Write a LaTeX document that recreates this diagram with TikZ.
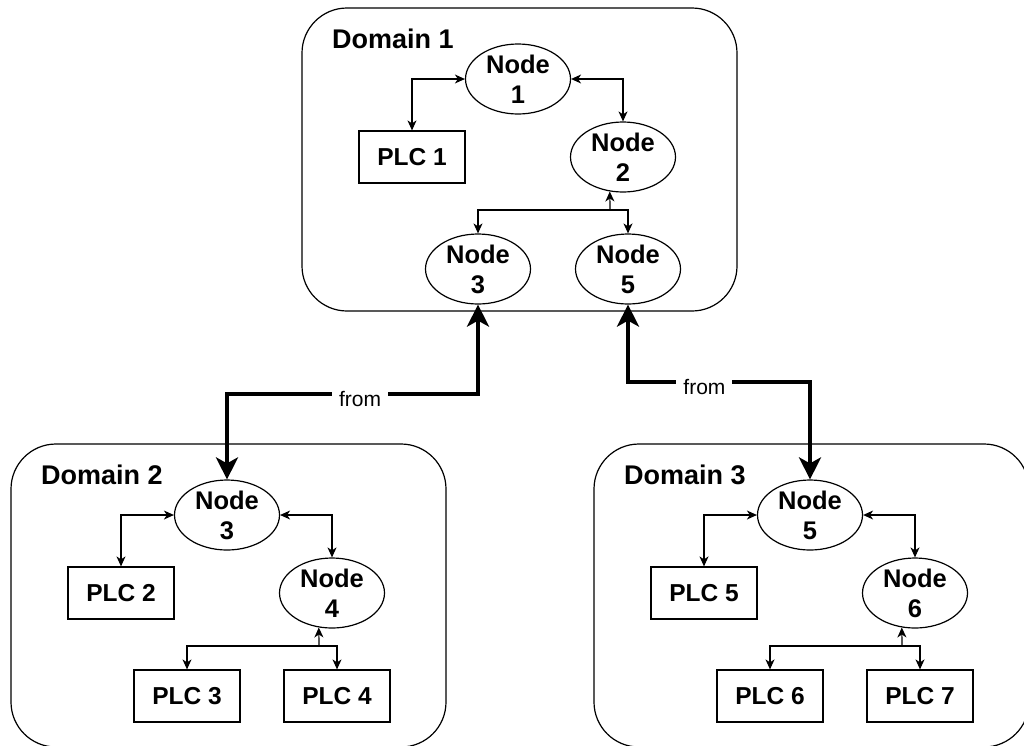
\documentclass[tikz,border=0pt]{standalone}
\usepackage{fontspec}
\setmainfont{Liberation Sans}
\usetikzlibrary{arrows.meta,shapes.geometric,calc}

\tikzset{
  thintip/.tip={Stealth[length=10pt,width=9pt,inset=3pt]},
  thicktip/.tip={Stealth[length=22pt,width=22pt,inset=6pt]},
  domainbox/.style={draw, line width=1.2pt, rounded corners=45pt},
  domaintitle/.style={anchor=west, inner sep=0pt, font=\fontsize{27}{32}\selectfont\bfseries},
  nodeell/.style={draw, ellipse, line width=1.2pt, minimum width=105pt, minimum height=70pt,
    inner sep=0pt, align=center, font=\fontsize{25.5}{30}\selectfont\bfseries},
  plcbox/.style={draw, rectangle, line width=1.2pt, minimum width=106pt, minimum height=52pt,
    inner sep=0pt, font=\fontsize{24.5}{29}\selectfont\bfseries},
  link/.style={line width=1.2pt, thintip-thintip},
  linkto/.style={line width=1.2pt, -thintip},
  trunk/.style={line width=4pt, thicktip-thicktip},
  fromlabel/.style={fill=white, inner xsep=7pt, inner ysep=2pt, yshift=-5pt,
    font=\fontsize{21}{25}\selectfont}
}

\begin{document}
\begin{tikzpicture}[x=1pt, y=-1pt]
\useasboundingbox (0,0) rectangle (1024,745);
\clip (0,0) rectangle (1024,745);

% ---- Domain 1 ----
\begin{scope}[shift={(302,8)}]
  \draw[domainbox] (0,0) rectangle (435,303);
  \node[domaintitle] (d1title) at (30,31) {Domain 1};
  \node[nodeell] (d1n1) at (216,71) {Node\\1};
  \node[plcbox]  (plc1) at (110,149) {PLC 1};
  \node[nodeell] (d1n2) at (321,149) {Node\\2};
  \node[nodeell] (d1n3) at (176,261) {Node\\3};
  \node[nodeell] (d1n5) at (326,261) {Node\\5};
  \coordinate (d1br) at (308,202);
  \draw[link] (plc1.north) |- (d1n1.west);
  \draw[link] (d1n1.east) -| (d1n2.north);
  \draw[linkto] (d1br) -- (d1n2.249);
  \draw[linkto] (d1br) -| (d1n3.north);
  \draw[linkto] (d1br) -| (d1n5.north);
\end{scope}

% ---- Domain 2 ----
\begin{scope}[shift={(11,444)}]
  \draw[domainbox] (0,0) rectangle (435,303);
  \node[domaintitle] (d2title) at (30,31) {Domain 2};
  \node[nodeell] (d2n3) at (216,71) {Node\\3};
  \node[plcbox]  (plc2) at (110,149) {PLC 2};
  \node[nodeell] (d2n4) at (321,149) {Node\\4};
  \node[plcbox]  (plc3) at (176,252) {PLC 3};
  \node[plcbox]  (plc4) at (326,252) {PLC 4};
  \coordinate (d2br) at (308,202);
  \draw[link] (plc2.north) |- (d2n3.west);
  \draw[link] (d2n3.east) -| (d2n4.north);
  \draw[linkto] (d2br) -- (d2n4.249);
  \draw[linkto] (d2br) -| (plc3.north);
  \draw[linkto] (d2br) -| (plc4.north);
\end{scope}

% ---- Domain 3 ----
\begin{scope}[shift={(594,444)}]
  \draw[domainbox] (0,0) rectangle (435,303);
  \node[domaintitle] (d3title) at (30,31) {Domain 3};
  \node[nodeell] (d3n5) at (216,71) {Node\\5};
  \node[plcbox]  (plc5) at (110,149) {PLC 5};
  \node[nodeell] (d3n6) at (321,149) {Node\\6};
  \node[plcbox]  (plc6) at (176,252) {PLC 6};
  \node[plcbox]  (plc7) at (326,252) {PLC 7};
  \coordinate (d3br) at (308,202);
  \draw[link] (plc5.north) |- (d3n5.west);
  \draw[link] (d3n5.east) -| (d3n6.north);
  \draw[linkto] (d3br) -- (d3n6.249);
  \draw[linkto] (d3br) -| (plc6.north);
  \draw[linkto] (d3br) -| (plc7.north);
\end{scope}

% ---- inter-domain links ----
\draw[trunk] (d1n3.south) -- ++(0,89) -| node[fromlabel,pos=0.235] {from} (d2n3.north);
\draw[trunk] (d1n5.south) -- ++(0,77) -| node[fromlabel,pos=0.21] {from} (d3n5.north);
\end{tikzpicture}
\end{document}
